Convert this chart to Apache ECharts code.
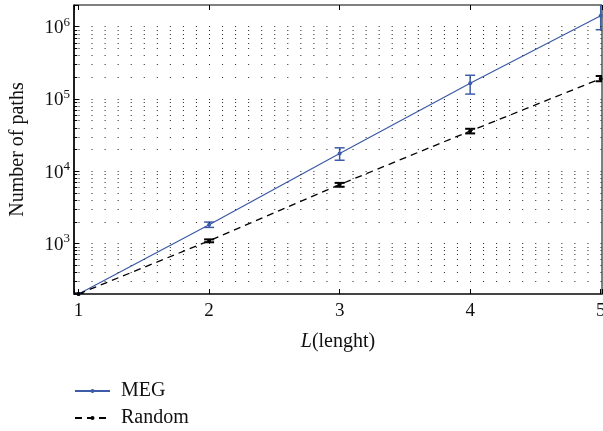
<!DOCTYPE html>
<html style="height: 100%">
<head>
<meta charset="utf-8">
</head>
<body style="height: 100%; margin: 0; background: #fff">
<div id="container" style="height: 100%"></div>
<script type="text/javascript" src="https://cdn.jsdelivr.net/npm/echarts@6/dist/echarts.min.js"></script>
<script type="text/javascript">
// path length
var lengths = [1, 2, 3, 4, 5];
// MEG counts and error bar ends
var megVals = [200, 1820, 17600, 165000, 1420000];
var megLow = [200, 1670, 14200, 117000, 910000];
var megHigh = [200, 1980, 21100, 213000, 2200000];
// random graph counts and error bar ends
var randVals = [200, 1090, 6530, 36000, 191000];
var randLow = [196, 1040, 6100, 33400, 176000];
var randHigh = [204, 1140, 6900, 38700, 208000];

var font = 'Liberation Serif';
var blue = '#3d5ca8';

var dom = document.getElementById('container');
var myChart = echarts.init(dom);

function pairs(xs, ys) {
    return xs.map(function (x, i) { return [x, ys[i]]; });
}
function bars(xs, lo, hi) {
    return xs.map(function (x, i) { return [x, lo[i], hi[i]]; });
}

// dotted grid rows at 1..9 of every decade
var gridRows = [];
for (var e = 2; e <= 6; e++) {
    for (var m = 1; m <= 9; m++) {
        var v = m * Math.pow(10, e);
        if (v > 200 && v <= 1000000) gridRows.push({yAxis: v});
    }
}
// short minor ticks on the left axis
var minorTicks = gridRows.map(function (r) {
    return [{coord: [0.965, r.yAxis]}, {coord: [0.99, r.yAxis]}];
});

function errorBar(color, width, capHalf) {
    return function (params, api) {
        var x = api.value(0);
        var top = api.coord([x, api.value(2)]);
        var bot = api.coord([x, api.value(1)]);
        var st = {stroke: color, lineWidth: width};
        return {
            type: 'group',
            children: [
                {type: 'line', shape: {x1: top[0], y1: top[1], x2: bot[0], y2: bot[1]}, style: st},
                {type: 'line', shape: {x1: top[0] - capHalf, y1: top[1], x2: top[0] + capHalf, y2: top[1]}, style: st},
                {type: 'line', shape: {x1: bot[0] - capHalf, y1: bot[1], x2: bot[0] + capHalf, y2: bot[1]}, style: st}
            ]
        };
    };
}

var option = {
    animation: false,
    textStyle: {fontFamily: font},
    grid: {
        left: 74, right: 1, top: 5, bottom: 137,
        outerBoundsMode: 'none',
        containLabel: false,
        show: true, borderColor: '#000', borderWidth: 1
    },
    legend: {
        data: ['MEG', 'Random'],
        orient: 'vertical',
        left: 74, top: 381,
        padding: 0,
        itemWidth: 35, itemHeight: 5, itemGap: 7,
        textStyle: {fontFamily: font, fontSize: 20, lineHeight: 20, color: '#111', padding: [0, 0, 0, 6]}
    },
    xAxis: [{
        type: 'value',
        min: 0.965, max: 5.01,
        name: '{i|L}(lenght)',
        nameLocation: 'middle',
        nameGap: 38,
        nameTextStyle: {
            fontFamily: font, fontSize: 20, color: '#111',
            rich: {i: {fontFamily: font, fontSize: 20, fontStyle: 'italic', color: '#111'}}
        },
        axisLine: {lineStyle: {color: '#444', width: 2}},
        axisTick: {inside: true, length: 5, lineStyle: {color: '#000'}},
        splitLine: {show: false},
        axisLabel: {
            fontFamily: font, fontSize: 19, color: '#111', margin: 8,
            formatter: function (v) {
                return Math.abs(v - Math.round(v)) < 1e-6 ? String(Math.round(v)) : '';
            }
        }
    }, {
        type: 'value',
        position: 'top',
        min: 0.965, max: 5.01,
        axisLine: {show: false},
        axisTick: {inside: true, length: 5, lineStyle: {color: '#000'}},
        axisLabel: {show: false},
        splitLine: {show: false}
    }],
    yAxis: {
        type: 'log',
        logBase: 10,
        min: 200, max: 2000000,
        name: 'Number of paths',
        nameLocation: 'middle',
        nameGap: 46,
        nameTextStyle: {fontFamily: font, fontSize: 20, color: '#111'},
        axisLine: {lineStyle: {color: '#000', width: 1.5}},
        axisTick: {inside: true, length: 5, lineStyle: {color: '#000'}},
        splitLine: {show: false},
        axisLabel: {
            margin: 4,
            color: '#111',
            formatter: function (v) {
                var lg = Math.log(v) / Math.LN10;
                var p = Math.round(lg);
                if (Math.abs(lg - p) > 1e-6) return '';
                return '{b|10}{s|' + p + '}';
            },
            rich: {
                b: {fontFamily: font, fontSize: 19, color: '#111', lineHeight: 22, verticalAlign: 'bottom'},
                s: {fontFamily: font, fontSize: 13, color: '#111', lineHeight: 22, verticalAlign: 'top'}
            }
        }
    },
    series: [{
        name: 'grid',
        type: 'line',
        data: [],
        silent: true,
        markLine: {
            silent: true,
            symbol: ['none', 'none'],
            label: {show: false},
            lineStyle: {color: '#222', width: 1, type: [1, 12.05], dashOffset: 8.55},
            data: gridRows
        }
    }, {
        name: 'ticks',
        type: 'line',
        data: [],
        silent: true,
        markLine: {
            silent: true,
            symbol: ['none', 'none'],
            label: {show: false},
            lineStyle: {color: '#000', width: 1, type: 'solid'},
            data: minorTicks
        }
    }, {
        name: 'MEG',
        type: 'line',
        data: pairs(lengths, megVals),
        symbol: 'circle',
        symbolSize: 4,
        itemStyle: {color: blue},
        lineStyle: {color: blue, width: 1.3}
    }, {
        name: 'Random',
        type: 'line',
        data: pairs(lengths, randVals),
        symbol: 'circle',
        symbolSize: 4,
        itemStyle: {color: '#000'},
        lineStyle: {color: '#000', width: 1.3, type: [7, 5]}
    }, {
        name: 'MEG err',
        type: 'custom',
        clip: true,
        data: bars(lengths, megLow, megHigh),
        renderItem: errorBar(blue, 1.5, 5)
    }, {
        name: 'Random err',
        type: 'custom',
        clip: true,
        data: bars(lengths, randLow, randHigh),
        renderItem: errorBar('#000', 2, 5)
    }]
};

myChart.setOption(option);
</script>
</body>
</html>
